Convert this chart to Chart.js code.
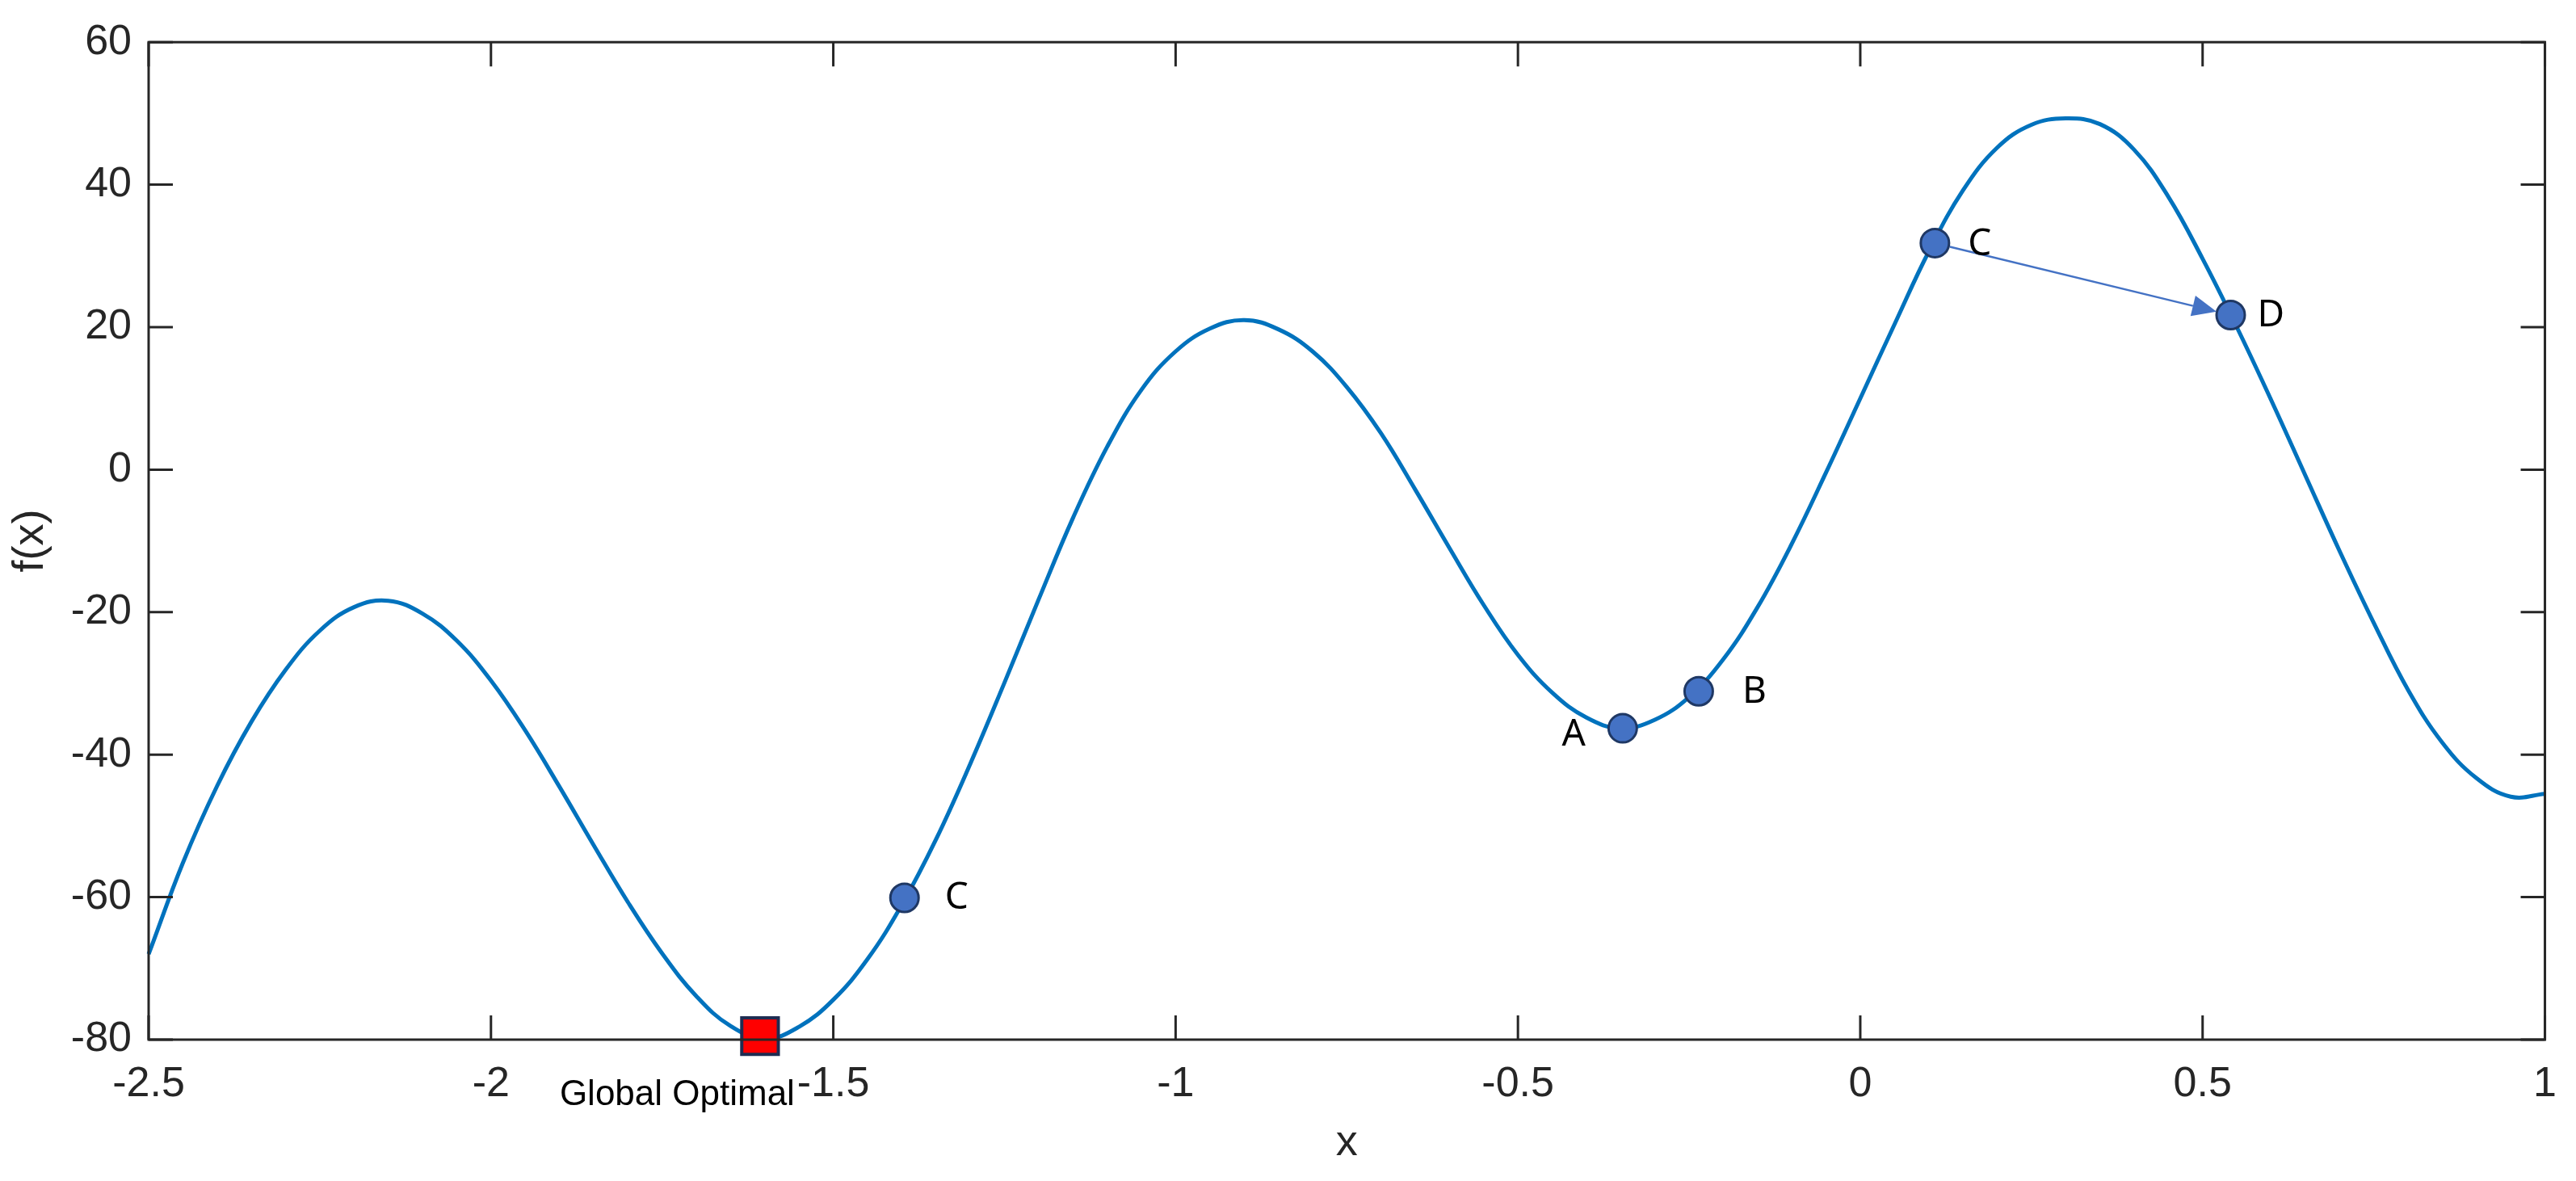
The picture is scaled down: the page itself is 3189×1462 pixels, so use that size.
<!DOCTYPE html>
<html>
<head>
<meta charset="utf-8">
<script src="https://cdn.jsdelivr.net/npm/chart.js@4.4.1/dist/chart.umd.min.js"></script>
<style>
html, body { margin: 0; padding: 0; background: #fff; }
canvas { display: block; }
</style>
</head>
<body>
<canvas id="fxChart" width="3189" height="1462"></canvas>
<script>
// curve samples
const xValues = [
	-2.50, -2.45, -2.40, -2.35, -2.30, -2.25, -2.20, -2.15, -2.10, -2.05,
	-2.00, -1.95, -1.90, -1.85, -1.80, -1.75, -1.70, -1.65, -1.60, -1.55,
	-1.50, -1.45, -1.40, -1.35, -1.30, -1.25, -1.20, -1.15, -1.10, -1.05,
	-1.00, -0.95, -0.90, -0.85, -0.80, -0.75, -0.70, -0.65, -0.60, -0.55,
	-0.50, -0.45, -0.40, -0.35, -0.30, -0.25, -0.20, -0.15, -0.10, -0.05,
	0.00, 0.05, 0.10, 0.15, 0.20, 0.25, 0.30, 0.35, 0.40, 0.45,
	0.50, 0.55, 0.60, 0.65, 0.70, 0.75, 0.80, 0.85, 0.90, 0.95, 1.00
];
const fxValues = [
	-68.0, -55.2, -44.4, -35.4, -28.1, -22.6, -19.3, -18.4, -20.2, -24.0,
	-29.6, -36.6, -44.5, -52.7, -60.7, -67.9, -73.9, -78.1, -79.9, -78.2,
	-74.4, -68.7, -61.1, -51.9, -41.3, -29.9, -18.2, -6.8, 3.2, 11.2,
	16.6, 19.8, 21.0, 19.7, 16.6, 11.6, 5.1, -2.8, -11.0, -19.0,
	-26.0, -31.3, -34.8, -36.3, -35.1, -31.9, -26.6, -19.3, -10.4, -0.4,
	10.0, 20.4, 30.6, 39.2, 45.2, 48.4, 49.3, 48.5, 44.9, 38.3,
	29.6, 20.0, 9.8, -0.8, -11.4, -21.5, -30.9, -38.3, -43.3, -45.9, -45.5
];

// marked points on the curve
const pointLabels = ['C', 'A', 'B', 'C', 'D'];
const pointX = [-1.396, -0.347, -0.236, 0.109, 0.541];
const pointY = [-60.1, -36.3, -31.1, 31.8, 21.7];
const arrowFrom = 3; // C -> D
const arrowTo = 4;

const optimalX = [-1.607];
const optimalY = [-79.5];
const optimalLabel = 'Global Optimal';

// axes
const xTickValues = [-2.5, -2, -1.5, -1, -0.5, 0, 0.5, 1];
const xTickLabels = ['-2.5', '-2', '-1.5', '-1', '-0.5', '0', '0.5', '1'];
const yTickValues = [-80, -60, -40, -20, 0, 20, 40, 60];
const yTickLabels = ['-80', '-60', '-40', '-20', '0', '20', '40', '60'];

const AXIS_COLOR = '#262626';
const AXIS_FONT = '"Liberation Sans", Arial, sans-serif';
const NOTE_FONT = '"Noto Sans", "Open Sans", sans-serif';

// where each point's letter sits: [dx, dy, align]
const labelPlace = [[50, 0, 'left'], [-46, 8, 'right'], [54, 1, 'left'], [41, 2, 'left'], [33, 1, 'left']];

const frameAndNotes = {
	id: 'frameAndNotes',
	afterDatasetsDraw: (chart) => {
		const {ctx, scales: {x, y}} = chart;
		// arrow between the two points
		const x0 = x.getPixelForValue(pointX[arrowFrom]), y0 = y.getPixelForValue(pointY[arrowFrom]);
		const x1 = x.getPixelForValue(pointX[arrowTo]), y1 = y.getPixelForValue(pointY[arrowTo]);
		const len = Math.hypot(x1 - x0, y1 - y0);
		const ux = (x1 - x0) / len, uy = (y1 - y0) / len;
		const sx = x0 + ux * 19, sy = y0 + uy * 19;
		const tx = x1 - ux * 18, ty = y1 - uy * 18;
		const bx = tx - ux * 30, by = ty - uy * 30;
		ctx.save();
		ctx.strokeStyle = '#4472C4';
		ctx.fillStyle = '#4472C4';
		ctx.lineWidth = 2.5;
		ctx.beginPath();
		ctx.moveTo(sx, sy);
		ctx.lineTo(bx, by);
		ctx.stroke();
		ctx.beginPath();
		ctx.moveTo(tx, ty);
		ctx.lineTo(bx - uy * 13, by + ux * 13);
		ctx.lineTo(bx + uy * 13, by - ux * 13);
		ctx.closePath();
		ctx.fill();
		ctx.restore();
	},
	afterDraw: (chart) => {
		const {ctx, chartArea: a, scales: {x, y}} = chart;
		ctx.save();
		// box + inward ticks on all four sides
		ctx.strokeStyle = AXIS_COLOR;
		ctx.lineWidth = 3;
		ctx.strokeRect(a.left, a.top, a.right - a.left, a.bottom - a.top);
		ctx.beginPath();
		xTickValues.forEach((v) => {
			const px = x.getPixelForValue(v);
			ctx.moveTo(px, a.bottom); ctx.lineTo(px, a.bottom - 30);
			ctx.moveTo(px, a.top); ctx.lineTo(px, a.top + 30);
		});
		yTickValues.forEach((v) => {
			const py = y.getPixelForValue(v);
			ctx.moveTo(a.left, py); ctx.lineTo(a.left + 30, py);
			ctx.moveTo(a.right, py); ctx.lineTo(a.right - 30, py);
		});
		ctx.stroke();

		// point letters
		ctx.fillStyle = '#000';
		ctx.font = '46px ' + NOTE_FONT;
		ctx.textBaseline = 'middle';
		pointLabels.forEach((t, i) => {
			const [dx, dy, align] = labelPlace[i];
			ctx.textAlign = align;
			ctx.fillText(t, x.getPixelForValue(pointX[i]) + dx, y.getPixelForValue(pointY[i]) + dy);
		});

		// global optimum caption under the axis
		ctx.font = '44px ' + AXIS_FONT;
		ctx.textAlign = 'right';
		ctx.textBaseline = 'alphabetic';
		ctx.fillText(optimalLabel, x.getPixelForValue(optimalX[0]) + 43, a.bottom + 81);
		ctx.restore();
	}
};

new Chart(document.getElementById('fxChart'), {
	type: 'scatter',
	data: {
		datasets: [
			{
				label: 'f(x)',
				type: 'line',
				data: xValues.map((v, i) => ({x: v, y: fxValues[i]})),
				borderColor: '#0072BD',
				borderWidth: 5,
				pointRadius: 0,
				tension: 0.4,
				fill: false,
				clip: false,
				order: 3
			},
			{
				label: 'points',
				data: pointX.map((v, i) => ({x: v, y: pointY[i]})),
				pointRadius: 17.5,
				pointBackgroundColor: '#4472C4',
				pointBorderColor: '#1F3864',
				pointBorderWidth: 3,
				clip: false,
				order: 2
			},
			{
				label: 'optimal',
				data: optimalX.map((v, i) => ({x: v, y: optimalY[i]})),
				pointStyle: 'rect',
				pointRadius: 32,
				pointBackgroundColor: '#FF0000',
				pointBorderColor: '#1F2D52',
				pointBorderWidth: 4,
				clip: false,
				order: 1
			}
		]
	},
	options: {
		responsive: false,
		animation: false,
		devicePixelRatio: 1,
		events: [],
		layout: {padding: {top: 41, right: 33, left: 0, bottom: 0}},
		plugins: {legend: {display: false}, tooltip: {enabled: false}},
		scales: {
			x: {
				type: 'linear',
				min: -2.5,
				max: 1,
				afterBuildTicks: (s) => { s.ticks = xTickValues.map((v) => ({value: v})); },
				afterFit: (s) => { s.height = 175; },
				ticks: {
					callback: (v) => xTickLabels[xTickValues.indexOf(v)],
					color: AXIS_COLOR,
					font: {family: AXIS_FONT, size: 52},
					padding: 24,
					maxRotation: 0,
					autoSkip: false
				},
				grid: {display: false, drawTicks: false},
				border: {display: false},
				title: {display: true, text: 'x', color: AXIS_COLOR, font: {family: AXIS_FONT, size: 54}, padding: {top: 0, bottom: 14}}
			},
			y: {
				type: 'linear',
				min: -80,
				max: 60,
				afterBuildTicks: (s) => { s.ticks = yTickValues.map((v) => ({value: v})); },
				afterFit: (s) => { s.width = 184; },
				ticks: {
					callback: (v) => yTickLabels[yTickValues.indexOf(v)],
					color: AXIS_COLOR,
					font: {family: AXIS_FONT, size: 52},
					padding: 21,
					autoSkip: false
				},
				grid: {display: false, drawTicks: false},
				border: {display: false},
				title: {display: true, text: 'f(x)', color: AXIS_COLOR, font: {family: AXIS_FONT, size: 54}, padding: {top: 6, bottom: 0}}
			}
		}
	},
	plugins: [frameAndNotes]
});
</script>
</body>
</html>
